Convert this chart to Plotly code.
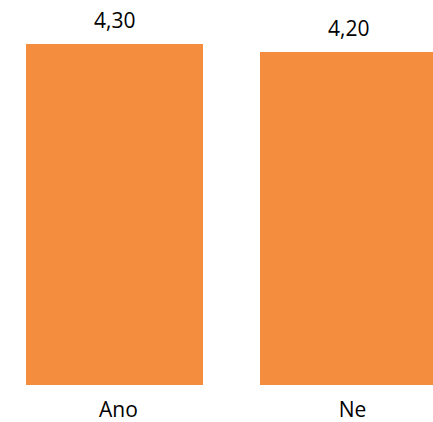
import plotly.graph_objects as go

categories = ["Ano", "Ne"]
values = [4.30, 4.20]
value_labels = ["4,30", "4,20"]

BAR_COLOR = "#F58D3F"
FONT = "Open Sans"

fig = go.Figure()
fig.add_trace(go.Bar(
    x=[0, 1], y=values, width=0.756,
    marker=dict(color=BAR_COLOR, line=dict(width=0)),
    hoverinfo="skip",
))

for i, (v, lab) in enumerate(zip(values, value_labels)):
    fig.add_annotation(x=i, y=v, text=lab, showarrow=False,
                       xanchor="center", yanchor="bottom", yshift=8,
                       font=dict(family=FONT, size=21, color="#000000"))

fig.update_layout(
    width=433, height=422,
    margin=dict(l=0, r=0, t=0, b=37, autoexpand=False),
    paper_bgcolor="white", plot_bgcolor="white",
    showlegend=False,
    bargap=0,
    xaxis=dict(range=[-0.489, 1.361], tickmode="array", tickvals=[0, 1],
               ticktext=categories, showgrid=False, zeroline=False,
               showline=False, ticks="outside", ticklen=6, tickcolor="rgba(0,0,0,0)",
               tickfont=dict(family=FONT, size=21, color="#000000"),
               ticklabelshift=4,
               automargin=False, fixedrange=True),
    yaxis=dict(range=[0, 4.855], visible=False, automargin=False, fixedrange=True),
)

fig.write_html("out.html", config={"displayModeBar": False},
               post_script="document.body.style.margin='0';document.body.style.overflow='hidden';")
